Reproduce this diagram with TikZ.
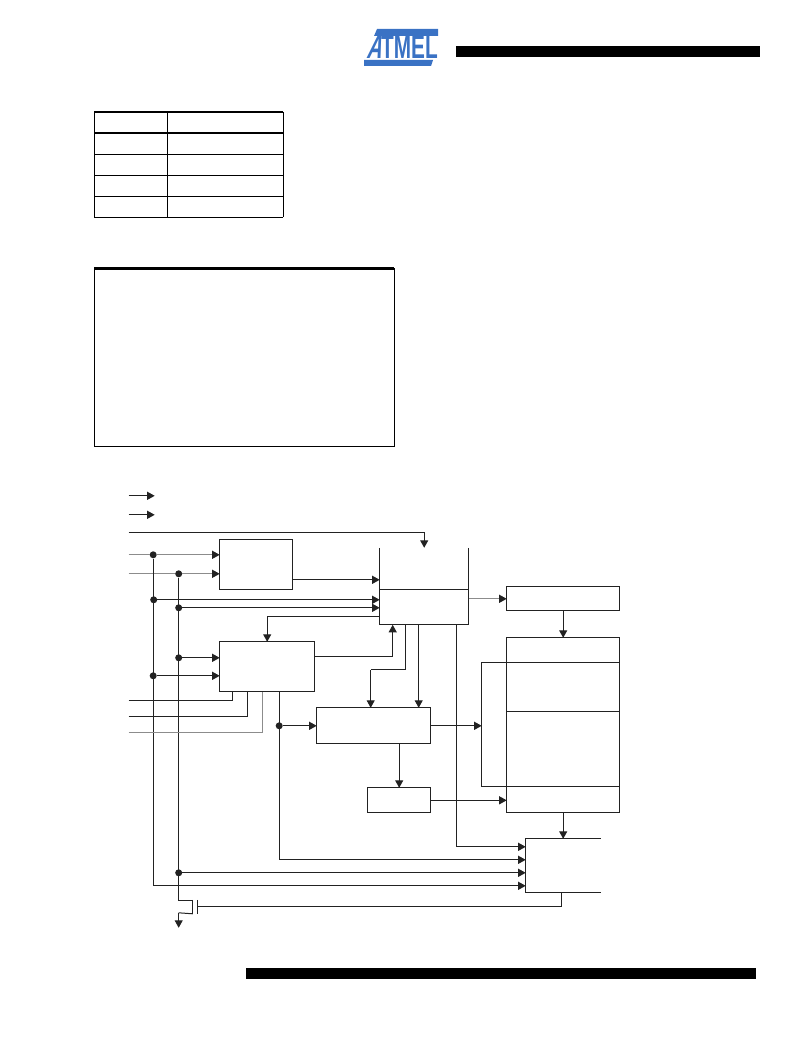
\documentclass[tikz,border=0pt]{standalone}
\usepackage{xcolor}
\usepackage{fontspec}
\setmainfont{Liberation Sans}
\newfontfamily\logoslant[FakeSlant=0.42]{Liberation Sans}
\usetikzlibrary{arrows.meta}
\definecolor{linecol}{HTML}{222222}
\definecolor{logoblue}{HTML}{3A72C4}
\tikzset{
  wire/.style={draw=linecol, line width=1pt},
  faint/.style={draw=black!45, line width=1pt},
  sig/.style={wire, -{Triangle[length=7.5pt,width=8pt]}},
  faintsig/.style={faint, -{Triangle[length=7.5pt,width=8pt,color=linecol]}},
  block/.style={wire, rectangle, inner sep=0pt, outer sep=0pt},
  openblock/.style={rectangle, inner sep=0pt, outer sep=0pt},
  dot/.style={circle, fill=linecol, inner sep=0pt, minimum size=7pt},
}

\begin{document}
\begin{tikzpicture}[x=1pt, y=-1pt]
  \useasboundingbox (0,0) rectangle (802,1038);

  % Header and footer
  \fill[black] (456,46) rectangle (760,57);
  \fill[black] (246,968) rectangle (756,979);
  \fill[logoblue] (377,29) -- (438,29) -- (438,36) -- (374,36) -- cycle;
  \fill[logoblue] (364,60) -- (433,60) -- (431,66) -- (364,66) -- cycle;
  \node[text=logoblue, font=\bfseries, inner sep=0pt, xscale=0.63, transform shape] (logo) at (402,47.5) {\fontsize{33}{33}\selectfont{\logoslant\bfseries A}TMEL};

  % Small table
  \draw[black, line width=2pt] (94,112) -- (283,112);
  \draw[black, line width=1.6pt] (94,133) -- (283,133);
  \foreach \yrow in {154.5,175.5,196.5,217}
    \draw[black, line width=1pt] (94,\yrow) -- (283,\yrow);
  \foreach \xcol in {94,167,283}
    \draw[black, line width=1pt] (\xcol,112) -- (\xcol,217);

  % Text frame
  \draw[black, line width=1pt] (94,268) rectangle (394,446);
  \draw[black, line width=2.4pt] (94,268.5) -- (394,268.5);

  \begin{scope}[xshift=-0.3pt, yshift=0.2pt]
  % Blocks
  \node[block, minimum width=73, minimum height=50] (boxA) at (256.5,565) {};
  \node[block, minimum width=95, minimum height=50] (boxB) at (267.5,667) {};
  \node[openblock, minimum width=89, minimum height=42] (boxCtop) at (424.5,569) {};
  \node[block, minimum width=89, minimum height=35] (boxC) at (424.5,607.5) {};
  \node[block, minimum width=113, minimum height=24] (boxD) at (563.5,599) {};
  \node[block, minimum width=113, minimum height=25] (boxE) at (563.5,650.5) {};
  \node[block, minimum width=113, minimum height=49] (boxEa) at (563.5,687.5) {};
  \node[block, minimum width=113, minimum height=75] (boxEb) at (563.5,749.5) {};
  \node[block, minimum width=113, minimum height=26] (boxEc) at (563.5,800) {};
  \node[block, minimum width=114, minimum height=36] (boxF) at (374,726) {};
  \node[block, minimum width=63, minimum height=25] (boxG) at (399.5,800.5) {};
  \node[openblock, minimum width=75, minimum height=54] (boxH) at (563.5,866) {};

  \draw[wire] (boxCtop.north west) -- (boxCtop.south west);
  \draw[wire] (boxCtop.north east) -- (boxCtop.south east);
  \draw[wire] (boxH.north east) -- (boxH.north west) -- (boxH.south west) -- (boxH.south east);

  % Junctions
  \node[dot] (jA) at (153.5,555) {};
  \node[dot] (jB) at (179,574) {};
  \node[dot] (jC) at (154,600) {};
  \node[dot] (jD) at (179,608) {};
  \node[dot] (jE) at (179,658) {};
  \node[dot] (jF) at (153.5,676) {};
  \node[dot] (jG) at (279.5,726) {};
  \node[dot] (jH) at (179,873) {};

  % Free ends and bends
  \coordinate (keyA) at (129,496);
  \coordinate (keyAend) at (155,496);
  \coordinate (keyB) at (129,515);
  \coordinate (keyBend) at (155,515);
  \coordinate (inTop) at (129,533);
  \coordinate (inA) at (129,555);
  \coordinate (inB) at (129,574);
  \coordinate (inC) at (129,701);
  \coordinate (inD) at (129,717);
  \coordinate (inE) at (129,733);
  \coordinate (tapC) at (233,692);
  \coordinate (tapD) at (248,692);
  \coordinate (tapE) at (263,692);
  \coordinate (tapF) at (279.5,692);
  \coordinate (upB) at (393,657);
  \coordinate (fbC) at (380,617);
  \coordinate (kneeA) at (406,670);
  \coordinate (kneeB) at (371,670);
  \coordinate (downC) at (419,670);
  \coordinate (riseC) at (457,847);
  \coordinate (loopT) at (482,663);
  \coordinate (loopB) at (482,787);
  \coordinate (inH1) at (526,860);
  \coordinate (inH2) at (526,886);
  \coordinate (bendA) at (179,901);
  \coordinate (bendB) at (193,901);
  \coordinate (bendC) at (193,913);
  \coordinate (bendD) at (179,913);
  \coordinate (gndEnd) at (179,928);
  \coordinate (plateA) at (193,900);
  \coordinate (plateC) at (193,914);
  \coordinate (plateT) at (198,900);
  \coordinate (plateB) at (198,914);
  \coordinate (plateM) at (198,907);
  \coordinate (plateR) at (562,907);

  % Connectors
  \draw[sig] (keyA) -- (keyAend);
  \draw[sig] (keyB) -- (keyBend);
  \draw[sig] (inTop) -| (boxCtop.north);
  \draw[faint] (inA) -- (jA);
  \draw[faintsig] (jA) -- (jA -| boxA.west);
  \draw[faint] (inB) -- (jB);
  \draw[faintsig] (jB) -- (jB -| boxA.west);
  \draw[sig] (jA) -- (jA |- inH2) -- (inH2);
  \draw[wire] (jB) -- (bendA) -- (bendB);
  \draw[wire] (plateC) -- (bendD);
  \draw[sig] (bendD) -- (gndEnd);
  \draw[wire] (plateA) -- (plateC);
  \draw[wire] (plateT) -- (plateB);
  \draw[wire] (plateM) -- (plateR) -- (plateR |- boxH.south);
  \draw[sig] (boxA.east |- 0,580) -- (boxCtop.west |- 0,580);
  \draw[sig] (jC) -- (jC -| boxC.west);
  \draw[sig] (jD) -- (jD -| boxC.west);
  \draw[sig] (fbC) -| (boxB.north);
  \draw[sig] (jE) -- (jE -| boxB.west);
  \draw[sig] (jF) -- (jF -| boxB.west);
  \draw[wire] (inC) -| (tapC);
  \draw[wire] (inD) -| (tapD);
  \draw[faint] (inE) -| (tapE);
  \draw[sig] (tapF) -- (tapF |- inH1) -- (inH1);
  \draw[sig] (jG) -- (jG -| boxF.west);
  \draw[wire] (boxB.east |- 0,657) -- (upB);
  \draw[sig] (upB) -- (upB |- boxC.south);
  \draw[faintsig] (boxC.east |- boxD.west) -- (boxD.west);
  \draw[sig] (boxD.south) -- (boxE.north);
  \draw[wire] (kneeA |- boxC.south) -- (kneeA) -- (kneeB);
  \draw[sig] (kneeB) -- (kneeB |- boxF.north);
  \draw[sig] (downC |- boxC.south) -- (downC |- boxF.north);
  \draw[sig] (riseC |- boxC.south) -- (riseC) -- (riseC -| boxH.west);
  \draw[wire] (boxE.south west) -- (loopT) -- (loopB) -- (boxEc.north west);
  \draw[sig] (boxF.east) -- (loopT |- boxF.east);
  \draw[sig] (boxF.south -| boxG.north) -- (boxG.north);
  \draw[sig] (boxG.east) -- (boxEc.west |- boxG.east);
  \draw[sig] (boxEc.south) -- (boxH.north);
  \draw[sig] (jH) -- (jH -| boxH.west);
  \end{scope}
\end{tikzpicture}
\end{document}
